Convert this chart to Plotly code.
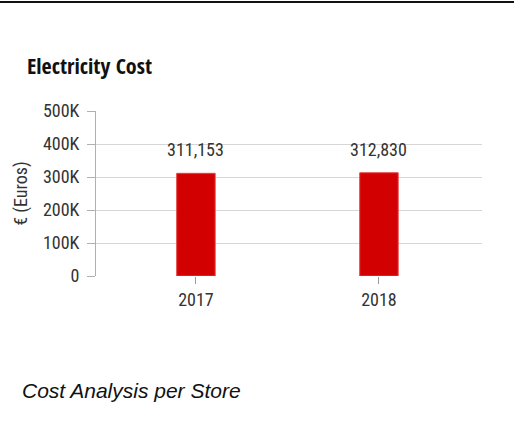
import plotly.graph_objects as go

years = ["2017", "2018"]
costs = [311153, 312830]
cost_labels = ["311,153", "312,830"]
y_tick_vals = [0, 100000, 200000, 300000, 400000, 500000]
y_tick_text = ["0", "100K", "200K", "300K", "400K", "500K"]

W, H = 514, 430
FONT = "Roboto Condensed, Carlito, Liberation Sans, sans-serif"
TITLE_FONT = "Open Sans Condensed, Roboto Condensed, sans-serif"

fig = go.Figure()
fig.add_trace(go.Bar(
    x=years, y=costs,
    marker=dict(color="#d20000", line=dict(color="#e54040", width=1)),
    width=0.21,
    hoverinfo="skip",
))

for i, (val, lab) in enumerate(zip(costs, cost_labels)):
    fig.add_annotation(
        x=i, y=val, xref="x", yref="y", text=lab, showarrow=False,
        xanchor="center", yanchor="bottom", yshift=11,
        font=dict(family=FONT, size=18, color="#333333"),
    )

x0, x1 = 96, 482
yt, yb = 111, 276
fig.update_layout(
    width=W, height=H,
    margin=dict(l=0, r=0, t=0, b=0),
    paper_bgcolor="white", plot_bgcolor="white",
    showlegend=False,
    font=dict(family=FONT, size=18, color="#333333"),
    xaxis=dict(
        domain=[x0 / W, x1 / W],
        type="category",
        range=[-0.546, 1.563],
        showgrid=False, showline=False, zeroline=False,
        ticks="outside", ticklen=7, tickcolor="#999999", tickwidth=1,
        tickfont=dict(family=FONT, size=18, color="#333333"),
        fixedrange=True,
    ),
    yaxis=dict(
        domain=[1 - yb / H, 1 - yt / H],
        range=[0, 500000],
        tickvals=y_tick_vals, ticktext=y_tick_text,
        showgrid=True, gridcolor="#d6d6d6", gridwidth=1,
        showline=True, linecolor="#b0b0b0", linewidth=1,
        zeroline=False,
        ticks="outside", ticklen=8, tickcolor="#b0b0b0",
        ticklabelstandoff=4,
        tickfont=dict(family=FONT, size=18, color="#333333"),
        title=dict(text="€ (Euros)", font=dict(family=FONT, size=18, color="#333333"), standoff=10),
        automargin=False,
        fixedrange=True,
    ),
    shapes=[
        dict(type="line", xref="paper", yref="paper", x0=0, x1=1, y0=1 - 2 / H, y1=1 - 2 / H,
             line=dict(color="#111111", width=2)),
    ],
)
fig.add_annotation(text="Electricity Cost", xref="paper", yref="paper",
                   x=25 / W, y=1 - 65 / H, xanchor="left", yanchor="middle", showarrow=False,
                   font=dict(family=TITLE_FONT, size=22, color="#111111"))
fig.add_annotation(text="<i>Cost Analysis per Store</i>", xref="paper", yref="paper",
                   x=20 / W, y=1 - 390 / H, xanchor="left", yanchor="middle", showarrow=False,
                   font=dict(family="Liberation Sans, Arial, sans-serif", size=21, color="#111111"))

fig.write_html("out.html", config={"displayModeBar": False},
               post_script="document.body.style.margin='0';")
